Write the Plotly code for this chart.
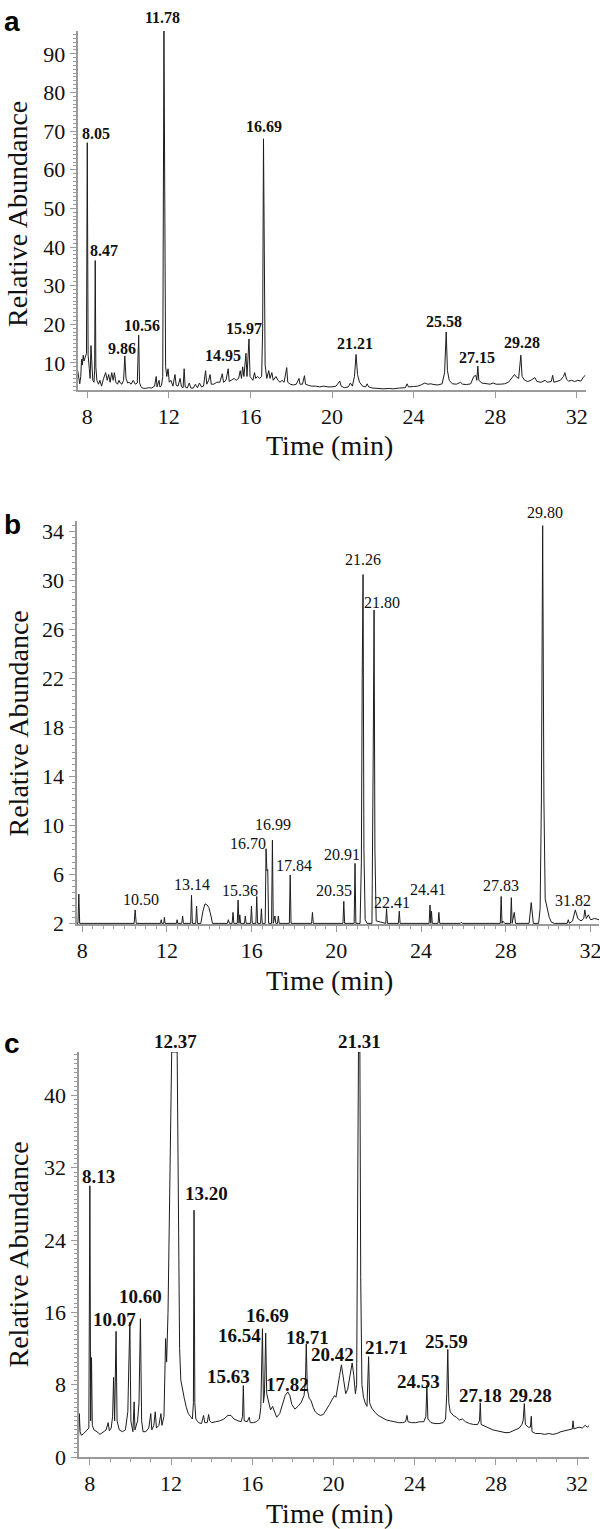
import plotly.graph_objects as go

# ---------------- Panel a ----------------
time_a = [7.53, 7.58, 7.63, 7.68, 7.72, 7.76, 7.80, 7.84, 7.90, 7.96, 8.00, 8.04, 8.10, 8.14, 8.18, 8.22, 8.27, 8.33,
          8.36, 8.39, 8.42, 8.47, 8.55, 8.62, 8.70, 8.80, 8.90, 8.98, 9.05, 9.12, 9.20, 9.27, 9.33, 9.40, 9.48, 9.55,
          9.62, 9.70, 9.78, 9.84, 9.90, 9.98, 10.05, 10.15, 10.25, 10.35, 10.45, 10.52, 10.56, 10.62, 10.70, 10.85,
          11.00, 11.15, 11.30, 11.38, 11.42, 11.52, 11.56, 11.64, 11.70, 11.76, 11.80, 11.84, 11.90, 11.96, 12.02,
          12.10, 12.20, 12.30, 12.36, 12.45, 12.55, 12.62, 12.70, 12.75, 12.80, 12.90, 13.00, 13.08, 13.20, 13.30,
          13.40, 13.50, 13.60, 13.70, 13.80, 13.86, 13.95, 14.02, 14.08, 14.20, 14.35, 14.50, 14.62, 14.68, 14.80,
          14.91, 14.96, 15.05, 15.20, 15.30, 15.42, 15.50, 15.56, 15.62, 15.68, 15.78, 15.83, 15.93, 15.98, 16.05,
          16.12, 16.20, 16.26, 16.35, 16.45, 16.55, 16.60, 16.64, 16.68, 16.72, 16.80, 16.90, 16.96, 17.05, 17.12,
          17.25, 17.35, 17.45, 17.55, 17.65, 17.78, 17.83, 17.95, 18.10, 18.25, 18.38, 18.43, 18.55, 18.65, 18.70,
          18.85, 19.00, 19.20, 19.40, 19.60, 19.80, 20.00, 20.20, 20.38, 20.45, 20.60, 20.80, 20.90, 21.00, 21.10,
          21.18, 21.25, 21.35, 21.50, 21.65, 21.72, 21.80, 22.00, 22.30, 22.50, 22.80, 23.00, 23.30, 23.60, 23.68,
          23.75, 24.00, 24.20, 24.40, 24.55, 24.70, 24.85, 25.00, 25.20, 25.40, 25.52, 25.60, 25.66, 25.75, 25.90,
          26.10, 26.30, 26.40, 26.60, 26.80, 26.95, 27.05, 27.10, 27.15, 27.20, 27.35, 27.55, 27.75, 27.90, 28.05,
          28.25, 28.45, 28.65, 28.85, 28.95, 29.05, 29.15, 29.26, 29.32, 29.45, 29.60, 29.75, 29.95, 30.05, 30.25,
          30.45, 30.55, 30.75, 30.82, 30.88, 31.05, 31.20, 31.35, 31.42, 31.50, 31.60, 31.75, 31.90, 32.05, 32.20,
          32.35, 32.43]
abund_a = [8.0, 6.0, 4.6, 6.5, 11.0, 9.5, 12.0, 10.5, 11.5, 12.5, 67.0, 12.0, 8.5, 6.0, 14.5, 9.0, 5.5, 5.0,
           8.0, 36.5, 9.0, 5.5, 4.5, 5.5, 4.0, 6.0, 7.5, 5.5, 7.0, 5.0, 7.5, 5.5, 7.5, 5.0, 4.5, 5.5,
           4.8, 4.5, 5.5, 11.8, 6.0, 4.8, 5.0, 4.5, 5.5, 4.5, 4.8, 17.2, 5.0, 4.0, 3.5, 3.4,
           3.6, 3.5, 4.0, 6.5, 3.8, 5.5, 3.8, 4.2, 6.5, 96.0, 20.0, 9.0, 6.5, 8.5, 5.0,
           5.5, 4.0, 7.0, 4.2, 4.0, 6.0, 3.8, 3.6, 8.5, 3.8, 3.5, 4.8, 3.5, 3.5, 4.5,
           3.6, 4.8, 3.8, 4.0, 8.0, 4.5, 5.5, 7.0, 4.5, 4.5, 5.0, 5.0, 7.2, 5.0, 5.5,
           8.5, 5.2, 5.5, 6.0, 5.5, 6.0, 8.0, 6.0, 9.0, 6.5, 12.5, 6.5, 16.2, 6.5, 6.0,
           5.5, 7.5, 6.0, 6.5, 6.0, 6.5, 19.0, 68.0, 20.0, 9.5, 6.0, 8.0, 6.0, 7.5, 5.5,
           6.5, 5.5, 5.0, 5.5, 5.0, 8.8, 5.0, 4.5, 4.3, 4.5, 6.0, 4.5, 4.5, 6.7, 4.5,
           4.2, 4.0, 4.0, 3.8, 4.0, 3.8, 3.8, 4.0, 5.3, 4.0, 3.6, 3.8, 4.8, 4.0, 6.5,
           12.2, 7.0, 5.0, 4.0, 3.8, 4.6, 3.8, 3.5, 3.4, 3.3, 3.4, 3.3, 3.5, 3.6, 4.6,
           3.8, 3.9, 4.0, 4.4, 4.8, 4.5, 4.6, 4.4, 4.3, 4.6, 7.5, 18.0, 8.0, 5.5, 4.6,
           4.5, 5.0, 4.5, 4.4, 4.6, 6.5, 6.8, 5.5, 9.2, 5.5, 4.8, 4.6, 4.5, 4.8, 4.5,
           4.5, 4.6, 5.0, 6.5, 7.0, 6.3, 6.0, 12.0, 6.5, 5.5, 5.2, 5.5, 6.2, 5.2, 5.0,
           5.5, 5.0, 5.2, 6.8, 5.0, 5.2, 5.5, 6.5, 7.5, 5.8, 5.3, 5.5, 5.2, 5.5, 5.3,
           6.5, 6.8]
labels_a = ["11.78", "8.05", "16.69", "8.47", "9.86", "10.56", "14.95", "15.97", "21.21", "25.58", "27.15", "29.28"]
label_t_a = [11.70, 8.41, 16.68, 8.83, 9.69, 10.67, 14.67, 15.68, 21.13, 25.50, 27.10, 29.30]
label_v_a = [99.4, 69.4, 71.1, 39.1, 13.7, 19.7, 12.0, 18.8, 15.0, 20.6, 11.5, 15.2]

# ---------------- Panel b ----------------
time_b = [7.73, 7.80, 7.84, 7.88, 10.45, 10.50, 10.55, 11.70, 11.73, 11.76, 11.85, 11.88, 11.91, 12.45, 12.48,
          12.51, 12.70, 12.74, 12.78, 13.12, 13.16, 13.20, 13.36, 13.40, 13.44, 13.60, 13.70, 13.80, 13.90, 13.98,
          14.08, 14.15, 14.85, 14.90, 14.95, 15.08, 15.12, 15.16, 15.32, 15.36, 15.40, 15.44, 15.48, 15.66, 15.70,
          15.74, 15.95, 15.99, 16.03, 16.20, 16.24, 16.28, 16.42, 16.46, 16.50, 16.64, 16.68, 16.72, 16.76, 16.80,
          16.94, 16.98, 17.02, 17.10, 17.14, 17.22, 17.26, 17.30, 17.78, 17.82, 17.86, 18.83, 18.87, 18.91, 20.31,
          20.35, 20.39, 20.84, 20.88, 20.92, 21.12, 21.18, 21.22, 21.26, 21.30, 21.36, 21.45, 21.68, 21.74, 21.78,
          21.82, 21.88, 22.33, 22.37, 22.41, 22.93, 22.97, 23.01, 24.38, 24.42, 24.46, 24.49, 24.53, 24.80, 24.84,
          24.88, 25.85, 25.90, 25.95, 27.74, 27.78, 27.82, 27.85, 27.95, 28.22, 28.26, 28.30, 28.40, 28.46, 29.10,
          29.20, 29.30, 29.55, 29.62, 29.68, 29.74, 29.80, 29.86, 29.95, 30.05, 30.15, 30.30, 30.90, 30.95, 31.00,
          31.15, 31.28, 31.40, 31.55, 31.68, 31.73, 31.80, 31.90, 32.00, 32.20, 32.40]
abund_b = [2.0, 2.0, 4.4, 2.0, 2.0, 3.1, 2.0, 2.0, 2.3, 2.0, 2.0, 2.5, 2.0, 2.0, 2.3,
           2.0, 2.0, 2.6, 2.0, 2.0, 4.3, 2.0, 2.0, 3.4, 2.0, 2.0, 3.0, 3.6, 3.5, 3.3,
           2.6, 2.0, 2.0, 2.3, 2.0, 2.0, 2.9, 2.0, 2.0, 3.9, 2.0, 2.7, 2.0, 2.0, 2.6,
           2.0, 2.0, 3.4, 2.0, 2.0, 4.2, 2.0, 2.0, 3.2, 2.0, 2.0, 8.1, 6.3, 6.4, 2.0,
           2.0, 8.8, 2.0, 2.6, 2.0, 2.0, 2.6, 2.0, 2.0, 5.95, 2.0, 2.0, 2.9, 2.0, 2.0,
           3.8, 2.0, 2.0, 6.9, 2.0, 2.0, 7.0, 22.0, 30.5, 8.0, 2.3, 2.0, 2.0, 16.0, 27.6,
           8.0, 2.2, 2.0, 3.2, 2.0, 2.0, 3.0, 2.0, 2.0, 3.5, 2.0, 3.0, 2.0, 2.0, 2.9,
           2.0, 2.0, 2.1, 2.0, 2.0, 4.2, 2.0, 2.2, 2.0, 2.0, 4.1, 2.0, 2.9, 2.0, 2.0,
           3.7, 2.0, 2.0, 3.2, 12.0, 34.5, 12.0, 4.0, 3.2, 2.5, 2.1, 2.0, 2.0, 2.3, 2.0,
           2.2, 3.1, 2.4, 2.2, 2.4, 3.1, 2.4, 2.7, 2.3, 2.4, 2.3]
labels_b = ["29.80", "21.26", "21.80", "10.50", "13.14", "15.36", "16.70", "16.99", "17.84", "20.35", "20.91",
            "22.41", "24.41", "27.83", "31.82"]
label_t_b = [29.84, 21.26, 22.16, 10.79, 13.18, 15.45, 15.85, 17.02, 18.02, 19.91, 20.27, 22.62, 24.33, 27.76, 31.19]
label_v_b = [35.6, 31.7, 28.2, 3.94, 5.2, 4.66, 8.56, 10.06, 6.76, 4.7, 7.65, 3.7, 4.74, 5.1, 3.85]

# ---------------- Panel c ----------------
time_c = [7.44, 7.48, 7.52, 7.58, 7.70, 7.85, 7.95, 8.00, 8.04, 8.08, 8.12, 8.20, 8.35, 8.50, 8.65, 8.80, 8.90,
          8.96, 9.05, 9.12, 9.17, 9.22, 9.29, 9.34, 9.45, 9.60, 9.75, 9.87, 9.91, 9.97, 10.02, 10.12, 10.18, 10.22,
          10.35, 10.42, 10.49, 10.55, 10.62, 10.75, 10.90, 11.00, 11.05, 11.15, 11.22, 11.28, 11.40, 11.50, 11.55,
          11.65, 11.73, 11.78, 11.85, 11.92, 11.98, 12.03, 12.30, 12.36, 12.42, 12.48, 12.55, 12.65, 12.75, 12.85,
          12.95, 13.05, 13.10, 13.13, 13.17, 13.22, 13.35, 13.50, 13.60, 13.66, 13.78, 13.85, 13.90, 14.00, 14.20,
          14.40, 14.60, 14.80, 14.95, 15.10, 15.30, 15.45, 15.52, 15.56, 15.60, 15.75, 15.85, 15.90, 16.05, 16.20,
          16.35, 16.42, 16.50, 16.55, 16.60, 16.66, 16.71, 16.80, 16.90, 17.00, 17.10, 17.20, 17.35, 17.50, 17.62,
          17.75, 17.85, 17.95, 18.10, 18.25, 18.40, 18.55, 18.62, 18.66, 18.71, 18.80, 18.90, 19.00, 19.10, 19.20,
          19.35, 19.50, 19.65, 19.80, 19.92, 20.05, 20.12, 20.20, 20.30, 20.39, 20.48, 20.60, 20.70, 20.80, 20.92,
          21.00, 21.08, 21.14, 21.19, 21.23, 21.30, 21.34, 21.40, 21.48, 21.56, 21.65, 21.73, 21.78, 21.88, 22.00,
          22.10, 22.20, 22.40, 22.60, 22.80, 23.00, 23.20, 23.40, 23.55, 23.62, 23.67, 23.85, 24.05, 24.25, 24.45,
          24.55, 24.60, 24.65, 24.80, 25.00, 25.20, 25.40, 25.52, 25.58, 25.63, 25.68, 25.75, 25.90, 26.05, 26.20,
          26.35, 26.50, 26.70, 26.90, 27.10, 27.19, 27.23, 27.27, 27.45, 27.65, 27.85, 28.05, 28.25, 28.45, 28.65,
          28.85, 29.00, 29.15, 29.28, 29.34, 29.40, 29.45, 29.60, 29.70, 29.74, 29.78, 29.95, 30.20, 30.40, 30.60,
          30.80, 31.00, 31.20, 31.40, 31.60, 31.76, 31.80, 31.84, 31.95, 32.10, 32.25, 32.40, 32.50, 32.60]
abund_c = [2.0, 4.8, 2.8, 2.4, 2.6, 2.9, 3.2, 30.0, 4.0, 11.0, 3.5, 3.0, 2.8, 2.5, 2.8, 3.0, 3.8,
           2.9, 3.2, 4.5, 8.8, 4.0, 13.9, 4.0, 3.0, 2.8, 3.0, 5.0, 9.3, 14.9, 4.0, 2.8, 6.1, 3.0,
           4.0, 6.0, 15.3, 4.0, 2.8, 2.8, 3.2, 4.8, 3.0, 3.5, 5.0, 3.2, 3.5, 4.8, 3.5,
           4.5, 13.1, 10.5, 16.0, 28.0, 40.0, 44.8, 44.8, 30.0, 12.0, 8.5, 7.5, 6.5, 5.5, 4.8,
           4.5, 4.2, 6.0, 27.3, 6.0, 4.2, 3.8, 3.7, 4.6, 3.8, 3.8, 4.7, 4.0, 3.8, 3.9,
           4.0, 4.2, 4.6, 4.6, 4.2, 4.0, 3.9, 4.5, 7.9, 4.0, 3.9, 4.4, 3.8, 3.8, 3.9,
           4.2, 5.5, 14.2, 6.0, 7.0, 13.7, 7.0, 6.0, 5.2, 5.6, 5.0, 4.4, 4.8, 5.8, 6.8,
           7.2, 6.8, 5.8, 5.3, 5.6, 6.0, 6.8, 8.5, 12.5, 7.5, 6.5, 6.2, 5.5, 5.0, 4.8,
           4.6, 4.7, 5.2, 5.8, 6.3, 6.8, 6.6, 7.5, 9.0, 10.2, 9.0, 7.0, 7.5, 9.0, 10.4,
           9.0, 7.0, 8.0, 28.0, 44.8, 44.8, 20.0, 8.0, 6.6, 6.0, 5.6, 11.1, 6.0, 5.4, 5.0,
           4.8, 4.6, 4.3, 4.1, 4.0, 3.9, 3.8, 3.8, 3.9, 4.6, 3.9, 3.8, 3.8, 3.9, 3.9,
           4.5, 7.9, 4.2, 3.8, 3.7, 3.7, 3.8, 4.2, 7.0, 11.9, 6.0, 5.0, 4.6, 4.4, 4.1,
           4.2, 3.9, 3.7, 3.6, 3.6, 4.0, 6.0, 3.6, 3.4, 3.2, 3.0, 2.9, 2.8, 2.7, 2.7,
           2.9, 3.1, 3.2, 3.6, 4.0, 5.9, 3.6, 3.3, 3.3, 4.5, 2.8, 2.6, 2.6, 2.5, 2.6,
           2.5, 2.6, 2.8, 2.9, 3.0, 3.1, 4.0, 3.1, 3.2, 3.3, 3.2, 3.5, 3.3, 3.5]
labels_c = ["8.13", "12.37", "13.20", "21.31", "10.07", "10.60", "15.63", "16.54", "16.69", "17.82", "18.71",
            "20.42", "21.71", "24.53", "25.59", "27.18", "29.28"]
label_t_c = [8.44, 12.22, 13.75, 21.29, 9.19, 10.49, 14.83, 15.35, 16.77, 17.71, 18.71, 19.94, 22.62, 24.18, 25.59,
             27.23, 29.69]
label_v_c = [31.0, 46.0, 29.2, 46.0, 15.2, 17.7, 8.9, 13.4, 15.7, 8.0, 13.2, 11.3, 12.1, 8.3, 12.8, 6.8, 6.8]

# ---------------- Axis ticks ----------------
xticks = [8, 12, 16, 20, 24, 28, 32]
yticks_a = [10, 20, 30, 40, 50, 60, 70, 80, 90]
yticks_b = [2, 6, 10, 14, 18, 22, 26, 30, 34]
yticks_c = [0, 8, 16, 24, 32, 40]

SERIF = "Liberation Serif, Times New Roman, serif"
SANS = "Liberation Sans, Arial, sans-serif"
AX = "#9a9a9a"
LINE = "#1c1c1c"

H = 1529.0
W = 600.0

yrange_a = [3.0, 95.9]
yrange_b = [1.95, 34.9]
yrange_c = [0.0, 44.8]

fig = go.Figure()
panels = [
    (time_a, abund_a, "x", "y"),
    (time_b, abund_b, "x2", "y2"),
    (time_c, abund_c, "x3", "y3"),
]
for t, v, xa, ya in panels:
    fig.add_trace(go.Scatter(x=t, y=v, xaxis=xa, yaxis=ya, mode="lines",
                             line=dict(color=LINE, width=1), hoverinfo="skip",
                             showlegend=False, cliponaxis=True))


def xaxis_cfg(domain, rng, anchor, minor_dt):
    cfg = dict(domain=domain, range=rng, anchor=anchor, tickmode="array", tickvals=xticks,
               ticktext=[str(v) for v in xticks], showgrid=False, zeroline=False, showline=True,
               linecolor=AX, linewidth=2, ticks="outside", ticklen=6, tickwidth=1, tickcolor=AX,
               automargin=False, fixedrange=True, ticklabeloverflow="allow",
               tickfont=dict(family=SERIF, size=22, color="#111"))
    if minor_dt:
        cfg["minor"] = dict(ticks="outside", ticklen=3, tickwidth=1, tickcolor=AX, dtick=minor_dt, tick0=8,
                            showgrid=False)
    return cfg


def yaxis_cfg(domain, rng, anchor, vals, minor_dt, tick0):
    return dict(domain=domain, range=rng, anchor=anchor, tickmode="array", tickvals=vals,
                ticktext=[str(v) for v in vals], showgrid=False, zeroline=False, showline=True,
                linecolor=AX, linewidth=2, ticks="outside", ticklen=6, tickwidth=1, tickcolor=AX,
                automargin=False, fixedrange=True, ticklabeloverflow="allow",
                tickfont=dict(family=SERIF, size=22, color="#111"),
                minor=dict(ticks="outside", ticklen=3, tickwidth=1, tickcolor=AX, dtick=minor_dt, tick0=tick0,
                           showgrid=False))


fig.update_layout(
    width=600, height=1529, margin=dict(l=0, r=0, t=0, b=0, autoexpand=False),
    paper_bgcolor="white", plot_bgcolor="white", showlegend=False,
    xaxis=xaxis_cfg([77.7 / W, 585.5 / W], [7.53, 32.43], "y", None),
    yaxis=yaxis_cfg([1 - 390 / H, 1 - 31 / H], yrange_a, "x", yticks_a, 1, 0),
    xaxis2=xaxis_cfg([76.5 / W, 599 / W], [7.73, 32.4], "y2", 0.5),
    yaxis2=yaxis_cfg([1 - 924 / H, 1 - 520.7 / H], yrange_b, "x2", yticks_b, 0.5, 2),
    xaxis3=xaxis_cfg([78.5 / W, 589.3 / W], [7.44, 32.6], "y3", 1),
    yaxis3=yaxis_cfg([1 - 1457 / H, 1 - 1052 / H], yrange_c, "x3", yticks_c, 0.5, 0),
)

ann = []
for texts, ts, vs, xr, yr, rng, size, bold in [
    (labels_a, label_t_a, label_v_a, "x", "y domain", yrange_a, 16, True),
    (labels_b, label_t_b, label_v_b, "x2", "y2 domain", yrange_b, 16, False),
    (labels_c, label_t_c, label_v_c, "x3", "y3 domain", yrange_c, 19, True),
]:
    for s, t, v in zip(texts, ts, vs):
        ann.append(dict(x=t, y=(v - rng[0]) / (rng[1] - rng[0]), xref=xr, yref=yr,
                        text=("<b>%s</b>" % s) if bold else s,
                        showarrow=False, xanchor="center", yanchor="middle",
                        font=dict(family=SERIF, size=size, color="#111")))

# axis titles and panel letters
for ycen in [445, 980, 1513]:
    ann.append(dict(x=329 / W, y=1 - ycen / H, xref="paper", yref="paper", text="Time (min)", showarrow=False,
                    xanchor="center", yanchor="middle", font=dict(family=SERIF, size=28, color="#111")))
for ycen in [214.5, 724, 1255]:
    ann.append(dict(x=0.0, y=1 - ycen / H, xref="paper", yref="paper", text="Relative Abundance",
                    showarrow=False, textangle=-90, xanchor="left", yanchor="middle",
                    font=dict(family=SERIF, size=28, color="#111")))
for letter, ycen in [("a", 21), ("b", 524), ("c", 1043)]:
    ann.append(dict(x=12 / W, y=1 - ycen / H, xref="paper", yref="paper", text="<b>%s</b>" % letter,
                    showarrow=False, xanchor="center", yanchor="middle",
                    font=dict(family=SANS, size=28, color="#000")))
fig.update_layout(annotations=ann)

fig.write_html("out.html", config={"displayModeBar": False},
               post_script="document.body.style.margin='0';document.body.style.padding='0';")
